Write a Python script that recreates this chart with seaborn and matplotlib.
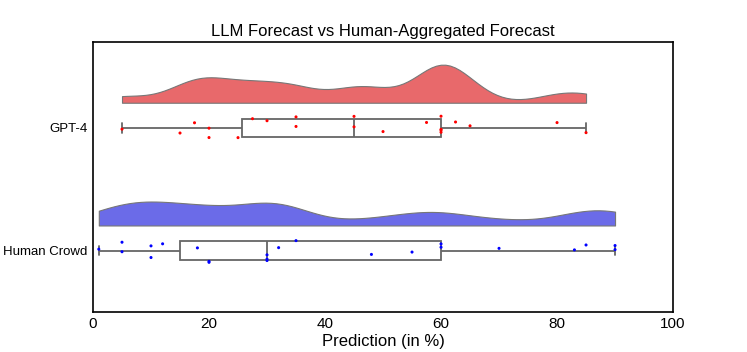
import numpy as np
import pandas as pd
import matplotlib
matplotlib.use("Agg")
import matplotlib.pyplot as plt
import seaborn as sns

# values (in %)
groups = ["GPT-4", "Human Crowd"]
gpt4_preds = [5, 15, 17.5, 20, 20, 25, 27.5, 30, 35, 35, 45, 45, 50, 57.5,
              60, 60, 60, 60, 62.5, 65, 80, 85]
human_preds = [1, 5, 5, 10, 10, 12, 18, 20, 20, 30, 30, 30, 32, 35, 48, 55,
               60, 60, 70, 83, 85, 90, 90]
cloud_colors = ["#e8696b", "#6b6be8"]
dot_colors = ["red", "blue"]

# relative height of each cloud, and its lift above the box
cloud_scale = [1.0, 0.63]
offset = 0.205

df = pd.DataFrame({
    "Prediction": gpt4_preds + human_preds,
    "Source": [groups[0]] * len(gpt4_preds) + [groups[1]] * len(human_preds),
})

sns.set_style("white")
plt.rcParams["font.family"] = ["Liberation Sans", "DejaVu Sans"]

fig = plt.figure(figsize=(7.47, 3.52), dpi=100)
ax = fig.add_axes([0.1245, 0.1136, 0.7765, 0.7671])

# cloud: keep the upper half of each violin and lift it above the box
sns.violinplot(data=df, x="Prediction", y="Source", hue="Source", order=groups,
               hue_order=groups, palette=cloud_colors, cut=0, inner=None,
               bw_method=0.2, width=0.62, linewidth=0.8, linecolor="#777777",
               saturation=1, legend=False, ax=ax)
for coll in ax.collections:
    for p in coll.get_paths():
        v = p.vertices.copy()
        c = np.round(v[:, 1].mean())
        k = cloud_scale[int(c)]
        v[:, 1] = c - (c - np.minimum(v[:, 1], c)) * k - offset
        p.vertices = v
    coll.set_zorder(1)

# box
sns.boxplot(data=df, x="Prediction", y="Source", order=groups, width=0.15,
            color="white", linecolor="#666666", linewidth=1.3, fliersize=0,
            whis=1.5, ax=ax)

# rain
np.random.seed(3)
sns.stripplot(data=df, x="Prediction", y="Source", hue="Source", order=groups,
              hue_order=groups, palette=dot_colors, jitter=0.1, size=2.2,
              legend=False, zorder=5, ax=ax)

ax.set_xlim(0, 100)
ax.set_ylim(1.5, -0.7)
ax.set_xticks([0, 20, 40, 60, 80, 100])
ax.tick_params(axis="x", labelsize=11, length=0, colors="black")
ax.tick_params(axis="y", labelsize=9.5, length=0, colors="black", pad=4)
ax.set_xlabel("Prediction (in %)", fontsize=12, color="black", labelpad=2)
ax.set_ylabel("")
ax.set_title("LLM Forecast vs Human-Aggregated Forecast", fontsize=12,
             color="black", pad=4)
for s in ax.spines.values():
    s.set_color("black")
    s.set_linewidth(1.2)

fig.savefig("out.png", dpi=100)
